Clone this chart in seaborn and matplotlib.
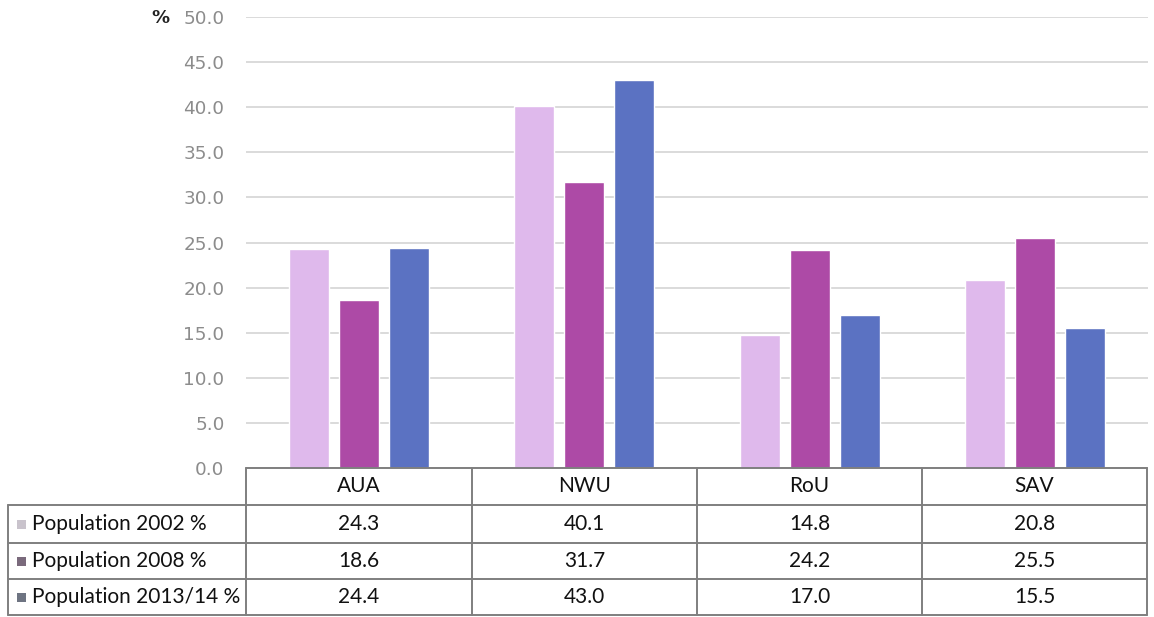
import matplotlib
matplotlib.use("Agg")
import matplotlib.pyplot as plt
import seaborn as sns
import pandas as pd

# Regions and the share of population in each survey round
regions = ["AUA", "NWU", "RoU", "SAV"]
series_names = ["Population 2002 %", "Population 2008 %", "Population 2013/14 %"]
pop_2002 = [24.3, 40.1, 14.8, 20.8]
pop_2008 = [18.6, 31.7, 24.2, 25.5]
pop_2013 = [24.4, 43.0, 17.0, 15.5]
y_ticks = [0, 5, 10, 15, 20, 25, 30, 35, 40, 45, 50]

colors = ["#dfb9ec", "#ad4aa6", "#5b72c2"]
marker_colors = ["#c9c3cc", "#7a6a7c", "#6e7482"]

series_values = [pop_2002, pop_2008, pop_2013]
df = pd.DataFrame({
    "region": [r for _ in series_names for r in regions],
    "series": [s for s in series_names for _ in regions],
    "value": [v for vals in series_values for v in vals],
})

sns.set_theme(style="white")
plt.rcParams["font.family"] = ["DejaVu Sans"]

W, H = 1154, 617
fig = plt.figure(figsize=(W / 100, H / 100), dpi=100)

def fx(px):
    return px / W

def fy(py):
    return 1 - py / H

# Plot area between the y-axis labels and the table
ax_left, ax_right, ax_top, ax_bottom = 246, 1148, 17, 468
ax = fig.add_axes([fx(ax_left), fy(ax_bottom), fx(ax_right - ax_left), (ax_bottom - ax_top) / H])

sns.barplot(data=df, x="region", y="value", hue="series", palette=colors,
            width=0.664, gap=0.2, ax=ax, legend=False, saturation=1)
ax.set_xlim(-0.5, len(regions) - 0.5)
ax.set_ylim(0, 50)
ax.set_yticks(y_ticks)
ax.set_yticklabels([f"{t:.1f}" for t in y_ticks], color="#8c8c8c", fontsize=13.2)
ax.tick_params(axis="y", length=0, pad=15.5)
ax.set_xticks([])
ax.set_xlabel("")
ax.set_ylabel("")
ax.yaxis.grid(True, color="#dadada", linewidth=1.4)
ax.set_axisbelow(True)
for s in ax.spines.values():
    s.set_visible(False)

fig.text(fx(170), fy(18), "%", fontsize=13, fontweight="bold", color="#222222",
         ha="right", va="center")

# Data table beneath the bars
tab = fig.add_axes([0, 0, 1, 1])
tab.set_xlim(0, W)
tab.set_ylim(H, 0)
tab.axis("off")

col_edges = [246, 472, 697, 922, 1147]
row_edges = [468, 505, 543, 579, 615]
label_left = 8
line_kw = dict(color="#7f7f7f", linewidth=1.4)

tab.plot([col_edges[0], col_edges[-1]], [row_edges[0]] * 2, **line_kw)
for yv in row_edges[1:]:
    tab.plot([label_left, col_edges[-1]], [yv, yv], **line_kw)
tab.plot([label_left, label_left], [row_edges[1], row_edges[-1]], **line_kw)
for xv in col_edges:
    tab.plot([xv, xv], [row_edges[0], row_edges[-1]], **line_kw)

table_font = ["Lato", "DejaVu Sans"]
fs = 15
for i, region in enumerate(regions):
    cx = (col_edges[i] + col_edges[i + 1]) / 2
    cy = (row_edges[0] + row_edges[1]) / 2
    tab.text(cx, cy, region, ha="center", va="center", fontsize=fs,
             family=table_font, color="#111111")

for j, (name, vals) in enumerate(zip(series_names, series_values)):
    cy = (row_edges[j + 1] + row_edges[j + 2]) / 2
    tab.add_patch(plt.Rectangle((17, cy - 4.5), 9, 9, color=marker_colors[j], lw=0))
    tab.text(32, cy, name, ha="left", va="center", fontsize=fs,
             family=table_font, color="#111111")
    for i, v in enumerate(vals):
        cx = (col_edges[i] + col_edges[i + 1]) / 2
        tab.text(cx, cy, f"{v:.1f}", ha="center", va="center", fontsize=fs,
                 family=table_font, color="#111111")

fig.savefig("out.png", dpi=100)
